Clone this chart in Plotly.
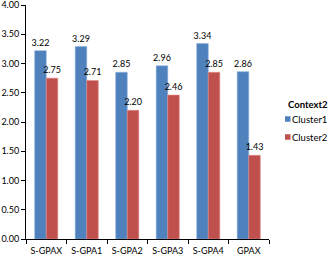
import plotly.graph_objects as go

categories = ["S-GPAX", "S-GPA1", "S-GPA2", "S-GPA3", "S-GPA4", "GPAX"]
cluster1 = [3.22, 3.29, 2.85, 2.96, 3.34, 2.86]
cluster2 = [2.75, 2.71, 2.20, 2.46, 2.85, 1.43]
y_ticks = [0, 0.5, 1.0, 1.5, 2.0, 2.5, 3.0, 3.5, 4.0]
legend_title = "Context2"
series_names = ["Cluster1", "Cluster2"]
colors = ["#4F81BD", "#C0504D"]
edge_colors = ["#8AB0DE", "#E08A88"]

FONT = "Lato, Carlito, Noto Sans, sans-serif"
W, H = 331, 256
ML, MR, MT, MB = 26, 62, 5, 17
PW, PH = W - ML - MR, H - MT - MB


def px_x(px):
    return (px - ML) / PW


def px_y(py):
    return (H - MB - py) / PH


fig = go.Figure()
for name, vals, col, ecol in zip(series_names, [cluster1, cluster2], colors, edge_colors):
    fig.add_bar(x=categories, y=vals, name=name,
                marker=dict(color=col, line=dict(color=ecol, width=0.6)),
                text=[f"{v:.2f}" for v in vals], textposition="outside",
                textfont=dict(size=9, color="#000"), cliponaxis=False,
                textangle=0)

# custom legend
annotations = [dict(text=f"<b>{legend_title}</b>", x=px_x(286), y=px_y(104),
                    xref="paper", yref="paper", xanchor="left", yanchor="middle",
                    showarrow=False, font=dict(size=9.5, color="#000"))]
shapes = []
for i, (name, col) in enumerate(zip(series_names, colors)):
    cy = 119 + i * 18
    shapes.append(dict(type="rect", xref="paper", yref="paper",
                       x0=px_x(285), x1=px_x(290.5), y0=px_y(cy - 2.75), y1=px_y(cy + 2.75),
                       fillcolor=col, line=dict(width=0)))
    annotations.append(dict(text=name, x=px_x(290), y=px_y(cy),
                            xref="paper", yref="paper", xanchor="left", yanchor="middle",
                            showarrow=False, font=dict(size=9.5, color="#000")))

fig.update_layout(
    width=W, height=H,
    margin=dict(l=ML, r=MR, t=MT, b=MB, autoexpand=False),
    paper_bgcolor="white", plot_bgcolor="white",
    font=dict(family=FONT, size=9, color="#000"),
    barmode="group", bargap=0.43, bargroupgap=0,
    showlegend=False,
    annotations=annotations, shapes=shapes,
    uniformtext=dict(minsize=8, mode="show"),
    xaxis=dict(showline=True, linecolor="#000", linewidth=1,
               ticks="outside", ticklen=4, tickcolor="#000", tickson="boundaries",
               tickangle=0, tickfont=dict(size=9), showgrid=False,
               ticklabelstandoff=3),
    yaxis=dict(range=[0, 4], tickvals=y_ticks, tickformat=".2f",
               showline=True, linecolor="#000", linewidth=1,
               ticks="outside", ticklen=4, tickcolor="#000",
               ticklabeloverflow="allow",
               tickfont=dict(size=9), showgrid=False, zeroline=False),
)
fig.write_html("out.html", config={"displayModeBar": False},
               post_script="document.body.style.margin='0';")
